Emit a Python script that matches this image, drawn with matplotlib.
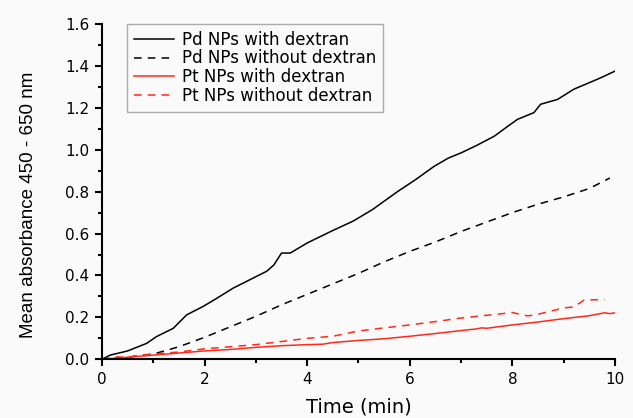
import matplotlib
matplotlib.use('Agg')
import matplotlib.pyplot as plt
from matplotlib.ticker import MultipleLocator, FormatStrFormatter

plt.rcParams['font.family'] = ['DejaVu Sans']

# Pd NPs with dextran
t_pd_dex = [0, 0.16, 0.5, 0.87, 1.06, 1.39, 1.65, 1.97, 2.23, 2.56, 2.95, 3.21, 3.35,
            3.5, 3.67, 4.0, 4.46, 4.9, 5.27, 5.76, 6.1, 6.47, 6.75, 7.0, 7.3, 7.65,
            7.9, 8.1, 8.42, 8.55, 8.88, 9.2, 9.5, 9.72, 10.0]
a_pd_dex = [0, 0.02, 0.04, 0.076, 0.108, 0.148, 0.212, 0.252, 0.29, 0.34, 0.388, 0.42,
            0.45, 0.507, 0.507, 0.555, 0.61, 0.66, 0.714, 0.80, 0.855, 0.92, 0.96,
            0.985, 1.02, 1.065, 1.11, 1.145, 1.177, 1.217, 1.24, 1.289, 1.32, 1.343, 1.375]

# Pd NPs without dextran
t_pd = [0, 0.5, 1.0, 1.5, 2.0, 2.5, 3.0, 3.5, 4.0, 4.5, 5.0, 5.5, 6.0, 6.5, 7.0,
        7.5, 8.0, 8.5, 9.0, 9.5, 9.9]
a_pd = [0, 0.01, 0.025, 0.06, 0.105, 0.155, 0.205, 0.26, 0.31, 0.36, 0.41, 0.465,
        0.515, 0.56, 0.61, 0.655, 0.70, 0.74, 0.775, 0.815, 0.865]

# Pt NPs with dextran
t_pt_dex = [0, 0.5, 1.0, 1.5, 2.0, 2.5, 3.0, 3.5, 4.0, 4.3, 4.5, 5.0, 5.5, 6.0,
            6.5, 7.0, 7.3, 7.4, 7.5, 8.0, 8.5, 9.0, 9.5, 9.8, 9.9, 10.0]
a_pt_dex = [0, 0.01, 0.02, 0.03, 0.04, 0.047, 0.057, 0.065, 0.07, 0.072, 0.08, 0.09,
            0.098, 0.11, 0.123, 0.137, 0.145, 0.15, 0.148, 0.164, 0.178, 0.194, 0.208,
            0.222, 0.218, 0.222]

# Pt NPs without dextran
t_pt = [0, 0.3, 0.5, 0.7, 1.0, 1.5, 2.0, 2.5, 3.0, 3.5, 4.0, 4.5, 5.0, 5.5, 6.0,
        6.5, 7.0, 7.5, 8.0, 8.3, 8.5, 9.0, 9.2, 9.4, 9.8]
a_pt = [0, 0.012, 0.008, 0.02, 0.025, 0.035, 0.05, 0.06, 0.07, 0.085, 0.1, 0.11,
        0.135, 0.15, 0.164, 0.18, 0.197, 0.21, 0.223, 0.207, 0.215, 0.245, 0.25,
        0.283, 0.285]

fig = plt.figure(figsize=(6.33, 4.18), dpi=100, facecolor='#fafafa')
ax = fig.add_axes([0.1611, 0.1404, 0.8104, 0.8022])
ax.set_facecolor('#fafafa')

red = '#ff2a1a'
ax.plot(t_pd_dex, a_pd_dex, color='black', lw=1.1, label='Pd NPs with dextran')
ax.plot(t_pd, a_pd, color='black', lw=1.1, ls=(0, (5, 4)), label='Pd NPs without dextran')
ax.plot(t_pt_dex, a_pt_dex, color=red, lw=1.1, label='Pt NPs with dextran')
ax.plot(t_pt, a_pt, color=red, lw=1.1, ls=(0, (5, 4)), label='Pt NPs without dextran')

ax.set_xlim(0, 10)
ax.set_ylim(0, 1.6)
ax.xaxis.set_major_locator(MultipleLocator(2))
ax.xaxis.set_minor_locator(MultipleLocator(1))
ax.yaxis.set_major_locator(MultipleLocator(0.2))
ax.yaxis.set_minor_locator(MultipleLocator(0.1))
ax.yaxis.set_major_formatter(FormatStrFormatter('%.1f'))
ax.spines['top'].set_visible(False)
ax.spines['right'].set_visible(False)
for s in ['left', 'bottom']:
    ax.spines[s].set_linewidth(1.5)
ax.tick_params(which='major', direction='out', length=5, width=1.5, labelsize=11, pad=4)
ax.tick_params(which='minor', direction='out', length=3, width=1.5)

ax.set_xlabel('Time (min)', fontsize=14, labelpad=8)
ax.set_ylabel('Mean absorbance 450 - 650 nm', fontsize=13.5, labelpad=20,
              family=['Liberation Sans', 'DejaVu Sans'])
ax.yaxis.label.set_y(0.46)

leg = ax.legend(loc='upper left', bbox_to_anchor=(0.049, 1.0), fontsize=12,
                frameon=True, fancybox=False, edgecolor='#999999', handlelength=2.4,
                handletextpad=0.48, labelspacing=0.05, borderpad=0.4, borderaxespad=0)
leg.get_frame().set_facecolor('#fafafa')
leg.get_frame().set_linewidth(1.0)

plt.savefig('out.png', dpi=100, facecolor=fig.get_facecolor())
